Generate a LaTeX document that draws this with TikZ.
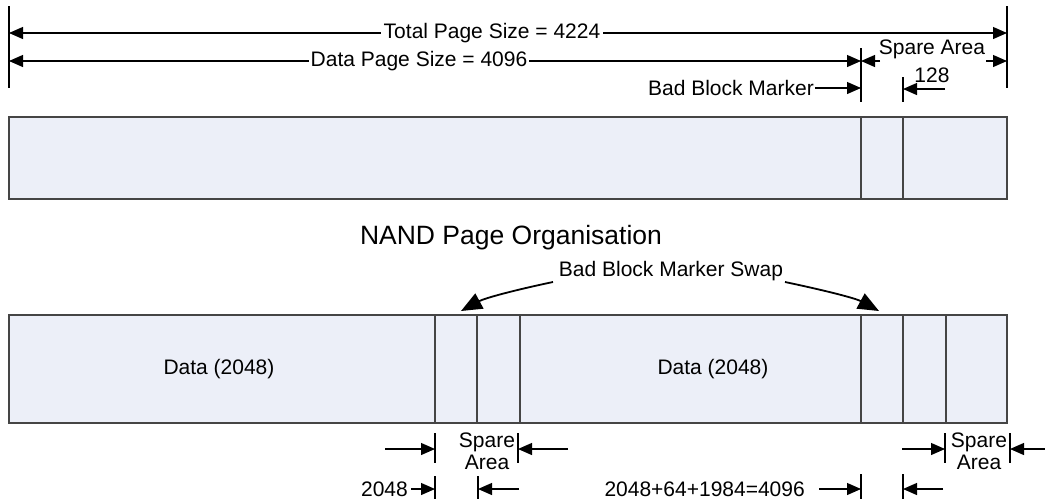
\documentclass[tikz,border=0pt]{standalone}
\usepackage{fontspec}
\setmainfont{Liberation Sans}
\usetikzlibrary{arrows.meta}
\definecolor{boxfill}{HTML}{ECEFF8}
\definecolor{boxline}{HTML}{454545}
\tikzset{
  lbl/.style={font=\fontsize{21}{23}\selectfont, inner sep=3pt},
  ttl/.style={font=\fontsize{26.5}{30}\selectfont, inner sep=0pt},
  dim/.style={line width=1.2pt, -{Triangle[length=14pt,width=12pt]}},
  tick/.style={line width=1.2pt},
  curv/.style={line width=1.8pt, -{Triangle[length=21pt,width=17pt]}},
  pagebox/.style={draw=boxline, line width=1.8pt, fill=boxfill},
  divline/.style={draw=boxline, line width=1.6pt},
}
\begin{document}
\begin{tikzpicture}[x=1pt,y=-1pt]
\useasboundingbox (0,0) rectangle (1045,499);

% ---------- top dimensions ----------
\draw[tick] (9,6) -- (9,88);
\draw[tick] (1007,6) -- (1007,88);
\node[lbl] (tot) at (492,33) {Total Page Size = 4224};
\coordinate (totL) at (9,33);
\coordinate (totR) at (1007,33);
\draw[dim] (tot.west) -- (totL);
\draw[dim] (tot.east) -- (totR);

\node[lbl, inner sep=2pt] (dps) at (419,61) {Data Page Size = 4096};
\coordinate (dpsL) at (9,61);
\coordinate (dpsR) at (861,61);
\draw[dim] (dps.west) -- (dpsL);
\draw[dim] (dps.east) -- (dpsR);
\draw[tick] (861,48) -- (861,102);

\node[lbl, inner sep=0pt] (sa) at (932,49) {Spare Area};
\coordinate (saLs) at (880,61);
\coordinate (saRs) at (986,61);
\coordinate (saL) at (861,61);
\coordinate (saR) at (1007,61);
\draw[dim] (saLs) -- (saL);
\draw[dim] (saRs) -- (saR);

\node[lbl, anchor=east, inner sep=1pt] (bbm) at (815,88) {Bad Block Marker};
\coordinate (bbmT) at (861,88);
\draw[dim] (bbm.east) -- (bbmT);

\node[lbl, inner sep=0pt] (n128) at (932,75) {128};
\coordinate (n128s) at (945,89);
\coordinate (n128t) at (903,89);
\draw[dim] (n128s) -- (n128t);
\draw[tick] (903,77) -- (903,102);

% ---------- top page box ----------
\draw[pagebox] (9,117) rectangle (1007,199);
\draw[divline] (861,117) -- (861,199);
\draw[divline] (903,117) -- (903,199);

% ---------- title ----------
\node[ttl] (title) at (511,238) {NAND Page Organisation};

% ---------- bottom page box ----------
\draw[pagebox] (9,315) rectangle (1007,423);
\foreach \x in {435,477,520,861,903,946}
  \draw[divline] (\x,315) -- (\x,423);
\node[lbl] (d1) at (219,369) {Data (2048)};
\node[lbl] (d2) at (713,369) {Data (2048)};

% ---------- swap arrows ----------
\node[lbl, inner sep=0pt] (swap) at (671,271) {Bad Block Marker Swap};
\coordinate (swL) at (461,311);
\coordinate (swR) at (879,311);
\draw[curv] (553,282) .. controls (515,290) and (485,298) .. (swL);
\draw[curv] (785,282) .. controls (823,290) and (855,298) .. (swR);

% ---------- bottom dimensions ----------
\draw[tick] (435,433) -- (435,463);
\draw[dim] (385,449) -- (435,449);
\node[lbl, align=center, inner sep=0pt] (sp1) at (487,451) {Spare\\[-1pt]Area};
\draw[tick] (518,433) -- (518,463);
\draw[dim] (568,449) -- (518,449);

\draw[tick] (435,476) -- (435,499);
\node[lbl, anchor=east, inner sep=0pt] (n2048) at (408,489) {2048};
\coordinate (n2048s) at (411,489);
\coordinate (n2048t) at (435,489);
\draw[dim] (n2048s) -- (n2048t);
\draw[tick] (478,476) -- (478,499);
\draw[dim] (519,489) -- (478,489);

\draw[tick] (945,433) -- (945,463);
\draw[dim] (902,449) -- (945,449);
\node[lbl, align=center, inner sep=0pt] (sp2) at (979,451) {Spare\\[-1pt]Area};
\draw[tick] (1010,433) -- (1010,463);
\draw[dim] (1045,449) -- (1010,449);

\node[lbl, anchor=east, inner sep=0pt] (sum) at (805,489) {2048+64+1984=4096};
\draw[dim] (819,489) -- (861,489);
\draw[tick] (861,474) -- (861,499);
\draw[tick] (903,474) -- (903,499);
\draw[dim] (943,489) -- (903,489);
\end{tikzpicture}
\end{document}
